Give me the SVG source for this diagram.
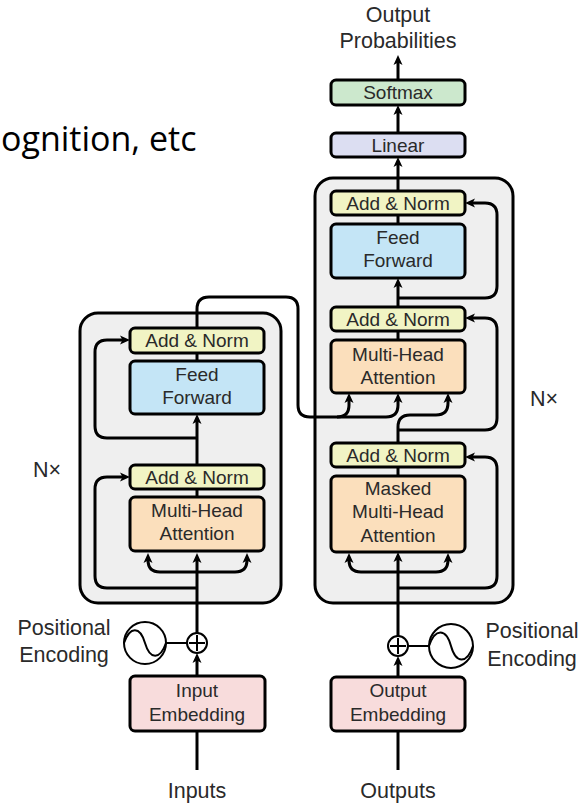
<svg xmlns="http://www.w3.org/2000/svg" width="587" height="806" viewBox="0 0 587 806">
<style>
text{font-family:"Liberation Sans",Arial,sans-serif;fill:#2a2a2a;text-anchor:middle}
.b{font-size:19px}
.l{font-size:21.5px}
.blk{fill:#efefef;stroke:#000;stroke-width:3}
.box{stroke:#000;stroke-width:3}
.an{fill:#f1f4c4}
.ff{fill:#c4e5f6}
.mha{fill:#fbdfbc}
.emb{fill:#f8dcdc}
.sm{fill:#cce8cd}
.lin{fill:#dcdef2}
.ln{fill:none;stroke:#000;stroke-width:3}
.thin{fill:none;stroke:#000;stroke-width:2}
</style>
<defs>
<marker id="ah" viewBox="0 0 10 10" refX="3" refY="5" markerWidth="10" markerHeight="10" markerUnits="userSpaceOnUse" orient="auto">
<path d="M0,0.5 L10,5 L0,9.5 L2.5,5 z" fill="#000"/>
</marker>
</defs>
<rect width="587" height="806" fill="#fff"/>
<text x="1" y="151" style="font-family:'Open Sans','Noto Sans',sans-serif;font-size:34px;fill:#000;text-anchor:start">ognition, etc</text>

<g id="encoder-block"><rect class="blk" x="80" y="313" width="201" height="290" rx="18"/></g>
<g id="decoder-block"><rect class="blk" x="315" y="178" width="198" height="425" rx="18"/></g>

<g id="connectors">
<path class="ln" marker-end="url(#ah)" d="M197,770 V724"/>
<path class="ln" marker-end="url(#ah)" d="M197,676 V660"/>
<path class="ln" marker-end="url(#ah)" d="M197,633 V560"/>
<path class="ln" marker-end="url(#ah)" d="M197,572 H160 Q148,572 148,560"/>
<path class="ln" marker-end="url(#ah)" d="M197,572 H235 Q247,572 247,560"/>
<path class="ln" marker-end="url(#ah)" d="M197,588 H107 Q95,588 95,576 V489 Q95,477 107,477 H123"/>
<path class="ln" d="M197,497 V489"/>
<path class="ln" marker-end="url(#ah)" d="M197,465 V421"/>
<path class="ln" marker-end="url(#ah)" d="M197,438 H107 Q95,438 95,426 V352 Q95,340 107,340 H123"/>
<path class="ln" d="M197,361 V353"/>
<path class="ln" marker-end="url(#ah)" d="M197,328 V309 Q197,297 209,297 H286 Q298,297 298,309 V405 Q298,417 310,417 H337 Q349,417 349,405 V400"/>
<path class="ln" marker-end="url(#ah)" d="M337,417 H386 Q398,417 398,405 V400"/>
<path class="thin" d="M166,643 H188"/>

<path class="ln" marker-end="url(#ah)" d="M398,770 V724"/>
<path class="ln" marker-end="url(#ah)" d="M398,677 V663"/>
<path class="ln" marker-end="url(#ah)" d="M398,636 V559"/>
<path class="ln" marker-end="url(#ah)" d="M398,572 H361 Q349,572 349,560"/>
<path class="ln" marker-end="url(#ah)" d="M398,572 H436 Q448,572 448,560"/>
<path class="ln" marker-end="url(#ah)" d="M398,588 H485 Q497,588 497,576 V469 Q497,457 485,457 H472"/>
<path class="ln" d="M398,476 V467"/>
<path class="ln" marker-end="url(#ah)" d="M398,443 V427 Q398,415 410,415 H436 Q448,415 448,403 V400"/>
<path class="ln" marker-end="url(#ah)" d="M398,430 H485 Q497,430 497,418 V330 Q497,318 485,318 H472"/>
<path class="ln" d="M398,340 V331"/>
<path class="ln" marker-end="url(#ah)" d="M398,307 V285"/>
<path class="ln" marker-end="url(#ah)" d="M398,298 H485 Q497,298 497,286 V215 Q497,203 485,203 H472"/>
<path class="ln" d="M398,224 V215"/>
<path class="ln" marker-end="url(#ah)" d="M398,191 V164"/>
<path class="ln" marker-end="url(#ah)" d="M398,133 V112"/>
<path class="ln" marker-end="url(#ah)" d="M398,80 V62"/>
<path class="thin" d="M408,646 H429"/>
</g>

<g id="enc-addnorm2"><rect class="box an" x="130" y="328" width="134" height="25" rx="5"/><text class="b" x="197" y="347">Add &amp; Norm</text></g>
<g id="enc-feedforward"><rect class="box ff" x="130" y="361" width="134" height="53" rx="5"/><text class="b" x="197" y="381">Feed</text><text class="b" x="197" y="404">Forward</text></g>
<g id="enc-addnorm1"><rect class="box an" x="130" y="465" width="134" height="24" rx="5"/><text class="b" x="197" y="484">Add &amp; Norm</text></g>
<g id="enc-mha"><rect class="box mha" x="130" y="497" width="134" height="54" rx="5"/><text class="b" x="197" y="517">Multi-Head</text><text class="b" x="197" y="540">Attention</text></g>
<g id="input-embedding"><rect class="box emb" x="130" y="676" width="135" height="55" rx="5"/><text class="b" x="197" y="697">Input</text><text class="b" x="197" y="721">Embedding</text></g>
<g id="enc-plus"><circle class="thin" cx="197" cy="643" r="10" fill="#fff"/><path class="thin" d="M189,643 H205 M197,635 V651"/></g>
<g id="enc-posenc"><circle class="thin" cx="145" cy="643" r="21" fill="#fff"/><path class="thin" d="M124,643 C130,626 140,626 145,643 C150,660 160,660 166,643"/></g>
<g id="inputs-label"><text class="l" x="197" y="798">Inputs</text></g>
<g id="enc-pe-label"><text class="l" x="64" y="635">Positional</text><text class="l" x="64" y="662">Encoding</text></g>
<g id="enc-nx"><text class="l" x="47" y="477">N×</text></g>

<g id="dec-addnorm3"><rect class="box an" x="331" y="191" width="134" height="24" rx="5"/><text class="b" x="398" y="210">Add &amp; Norm</text></g>
<g id="dec-feedforward"><rect class="box ff" x="331" y="224" width="134" height="54" rx="5"/><text class="b" x="398" y="244">Feed</text><text class="b" x="398" y="267">Forward</text></g>
<g id="dec-addnorm2"><rect class="box an" x="331" y="307" width="134" height="24" rx="5"/><text class="b" x="398" y="326">Add &amp; Norm</text></g>
<g id="dec-mha"><rect class="box mha" x="331" y="340" width="134" height="53" rx="5"/><text class="b" x="398" y="361">Multi-Head</text><text class="b" x="398" y="384">Attention</text></g>
<g id="dec-addnorm1"><rect class="box an" x="331" y="443" width="134" height="24" rx="5"/><text class="b" x="398" y="462">Add &amp; Norm</text></g>
<g id="dec-masked-mha"><rect class="box mha" x="331" y="476" width="134" height="76" rx="5"/><text class="b" x="398" y="495">Masked</text><text class="b" x="398" y="518">Multi-Head</text><text class="b" x="398" y="542">Attention</text></g>
<g id="output-embedding"><rect class="box emb" x="331" y="677" width="134" height="54" rx="5"/><text class="b" x="398" y="697">Output</text><text class="b" x="398" y="721">Embedding</text></g>
<g id="dec-plus"><circle class="thin" cx="398" cy="646" r="10" fill="#fff"/><path class="thin" d="M390,646 H406 M398,638 V654"/></g>
<g id="dec-posenc"><circle class="thin" cx="451" cy="646" r="22" fill="#fff"/><path class="thin" d="M429,646 C435,628 446,628 451,646 C456,664 467,664 473,646"/></g>
<g id="linear"><rect class="box lin" x="331" y="133" width="134" height="24" rx="5"/><text class="b" x="398" y="152">Linear</text></g>
<g id="softmax"><rect class="box sm" x="331" y="80" width="134" height="25" rx="5"/><text class="b" x="398" y="99">Softmax</text></g>
<g id="outputs-label"><text class="l" x="398" y="798">Outputs</text></g>
<g id="output-probs-label"><text class="l" x="398" y="22">Output</text><text class="l" x="398" y="48">Probabilities</text></g>
<g id="dec-pe-label"><text class="l" x="532" y="638">Positional</text><text class="l" x="532" y="666">Encoding</text></g>
<g id="dec-nx"><text class="l" x="544" y="406">N×</text></g>
</svg>
